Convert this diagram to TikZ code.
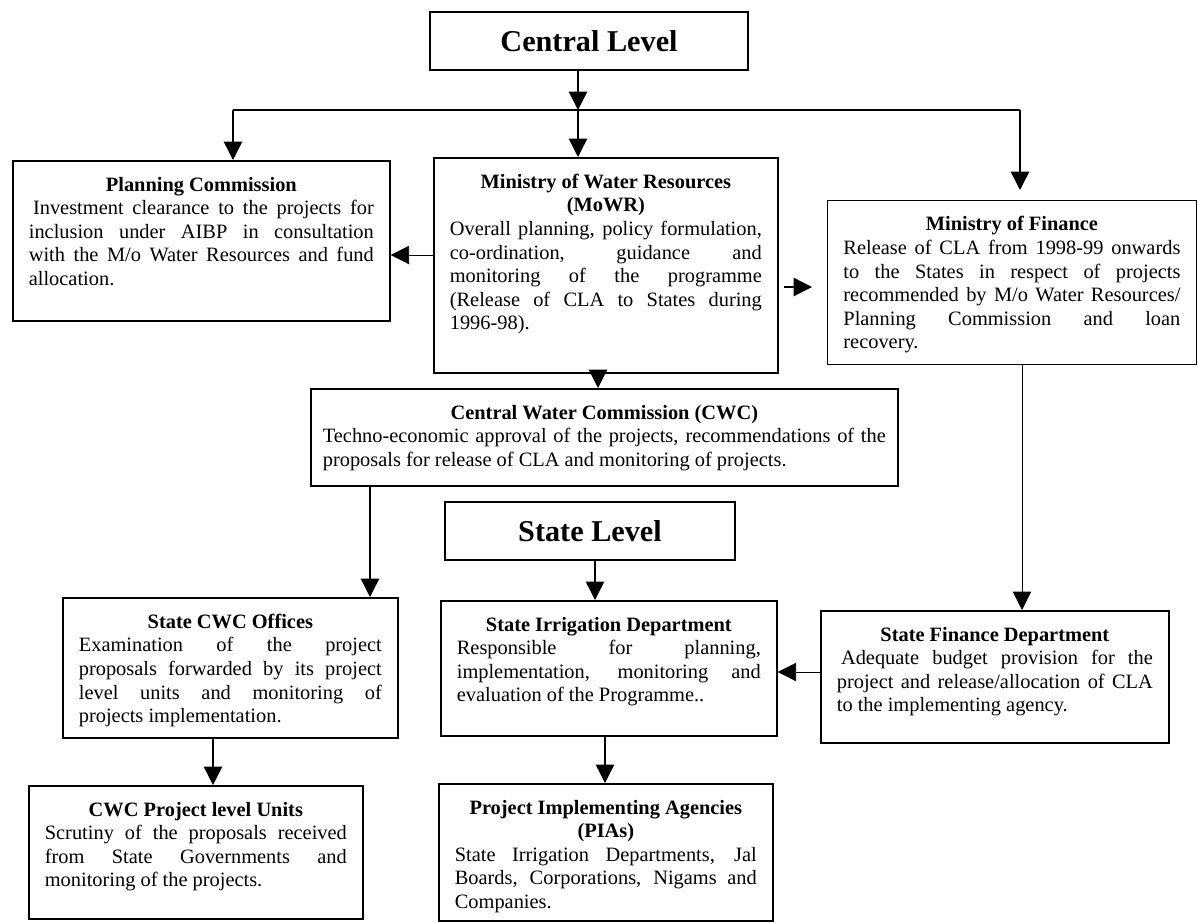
\documentclass[tikz,border=0pt]{standalone}
\usepackage{fontspec}
\setmainfont{Liberation Serif}
\usetikzlibrary{arrows.meta}

\newdimen\pxunit \pxunit=0.025cm
\newcommand{\unittext}[4]{%
  \parbox[c][#2\pxunit][t]{#1\pxunit}{\tolerance=10000 \hbadness=10000 \vbadness=10000
    {\centering\bfseries #3\par}#4}}

\tikzset{
  orgbox/.style={draw, line width=1.2pt, anchor=north west, inner sep=0.4cm,
    font=\fontsize{14.5}{16.8}\selectfont},
  levelbox/.style={draw, line width=1.2pt, font=\fontsize{21.5}{24}\selectfont\bfseries},
  flow/.style={-{Triangle[length=0.46cm,width=0.46cm]}, line width=1pt},
}

\begin{document}
\begin{tikzpicture}[x=0.025cm, y=-0.025cm]
            \useasboundingbox (0,0) rectangle (1198,922);
            \node[levelbox, minimum width=7.95cm, minimum height=1.45cm] (central) at (589,41) {Central Level};
            \coordinate (hub) at (578,110);
            \coordinate (busL) at (233,110);
            \coordinate (busR) at (1020,110);
            \draw[flow] (central.south -| hub) -- (hub);
            \draw[line width=1pt] (busL) -- (busR);
            \node[orgbox] (pc) at (12,160) {\unittext{345}{128}{Planning Commission}{\hspace*{3pt}Investment clearance to the projects for\linebreak inclusion under AIBP in consultation\linebreak with the M/o Water Resources and fund\linebreak allocation.}};
            \node[orgbox] (mowr) at (433,157) {\unittext{312}{183}{Ministry of Water Resources\\(MoWR)}{Overall planning, policy formulation,\linebreak co-ordination, guidance and\linebreak monitoring of the programme\linebreak (Release of CLA to States during\linebreak 1996-98).}};
            \node[orgbox, line width=0.6pt] (mof) at (827,200) {\unittext{337}{132}{Ministry of Finance}{Release of CLA from 1998-99 onwards\linebreak to the States in respect of projects\linebreak recommended by M/o Water Resources/\linebreak Planning Commission and loan\linebreak recovery.}};
            \node[orgbox, inner xsep=0.3cm] (cwc) at (310,388) {\unittext{563}{65}{Central Water Commission (CWC)}{Techno-economic approval of the projects, recommendations of the\linebreak proposals for release of CLA and monitoring of projects.}};
            \node[levelbox, minimum width=7.25cm, minimum height=1.45cm] (state) at (590,531) {State Level};
            \node[orgbox] (scwc) at (62,597) {\unittext{303}{108}{State CWC Offices}{Examination of the project\linebreak proposals forwarded by its project\linebreak level units and monitoring of\linebreak projects implementation.}};
            \node[orgbox] (sid) at (440,600) {\unittext{304}{103}{State Irrigation Department}{Responsible for planning,\linebreak implementation, monitoring and\linebreak evaluation of the Programme..}};
            \node[orgbox] (sfd) at (820,610) {\unittext{316}{100}{State Finance Department}{\hspace*{3pt}Adequate budget provision for the\linebreak project and release/allocation of CLA\linebreak to the implementing agency.}};
            \node[orgbox] (plu) at (28,785) {\unittext{302}{101}{CWC Project level Units}{Scrutiny of the proposals received\linebreak from State Governments and\linebreak monitoring of the projects.}};
            \node[orgbox] (pia) at (438,783) {\unittext{302}{105}{Project Implementing Agencies\\(PIAs)}{State Irrigation Departments, Jal\linebreak Boards, Corporations, Nigams and\linebreak Companies.}};
            \draw[flow] (busL) -- (busL |- pc.north);
            \draw[flow] (hub) -- (hub |- mowr.north);
            \draw[flow, shorten >=0.25cm] (busR) -- (busR |- mof.north);
            \draw[flow, line width=0.6pt] (mowr.west |- 0,255) -- (pc.east |- 0,255);
            \draw[flow, shorten <=0.125cm, shorten >=0.375cm] (mowr.east |- 0,287) -- (mof.west |- 0,287);
            \draw[flow] (mowr.south -| 598,0) -- (cwc.north -| 598,0);
            \draw[flow] (cwc.south -| 370,0) -- (scwc.north -| 370,0);
            \draw[flow] (state.south -| 595,0) -- (sid.north -| 595,0);
            \draw[flow, line width=0.6pt] (mof.south -| 1022,0) -- (sfd.north -| 1022,0);
            \draw[flow, line width=0.6pt] (sfd.west |- 0,672) -- (sid.east |- 0,672);
            \draw[flow] (scwc.south -| 213,0) -- (plu.north -| 213,0);
            \draw[flow] (sid.south -| 605,0) -- (pia.north -| 605,0);
\end{tikzpicture}
\end{document}
